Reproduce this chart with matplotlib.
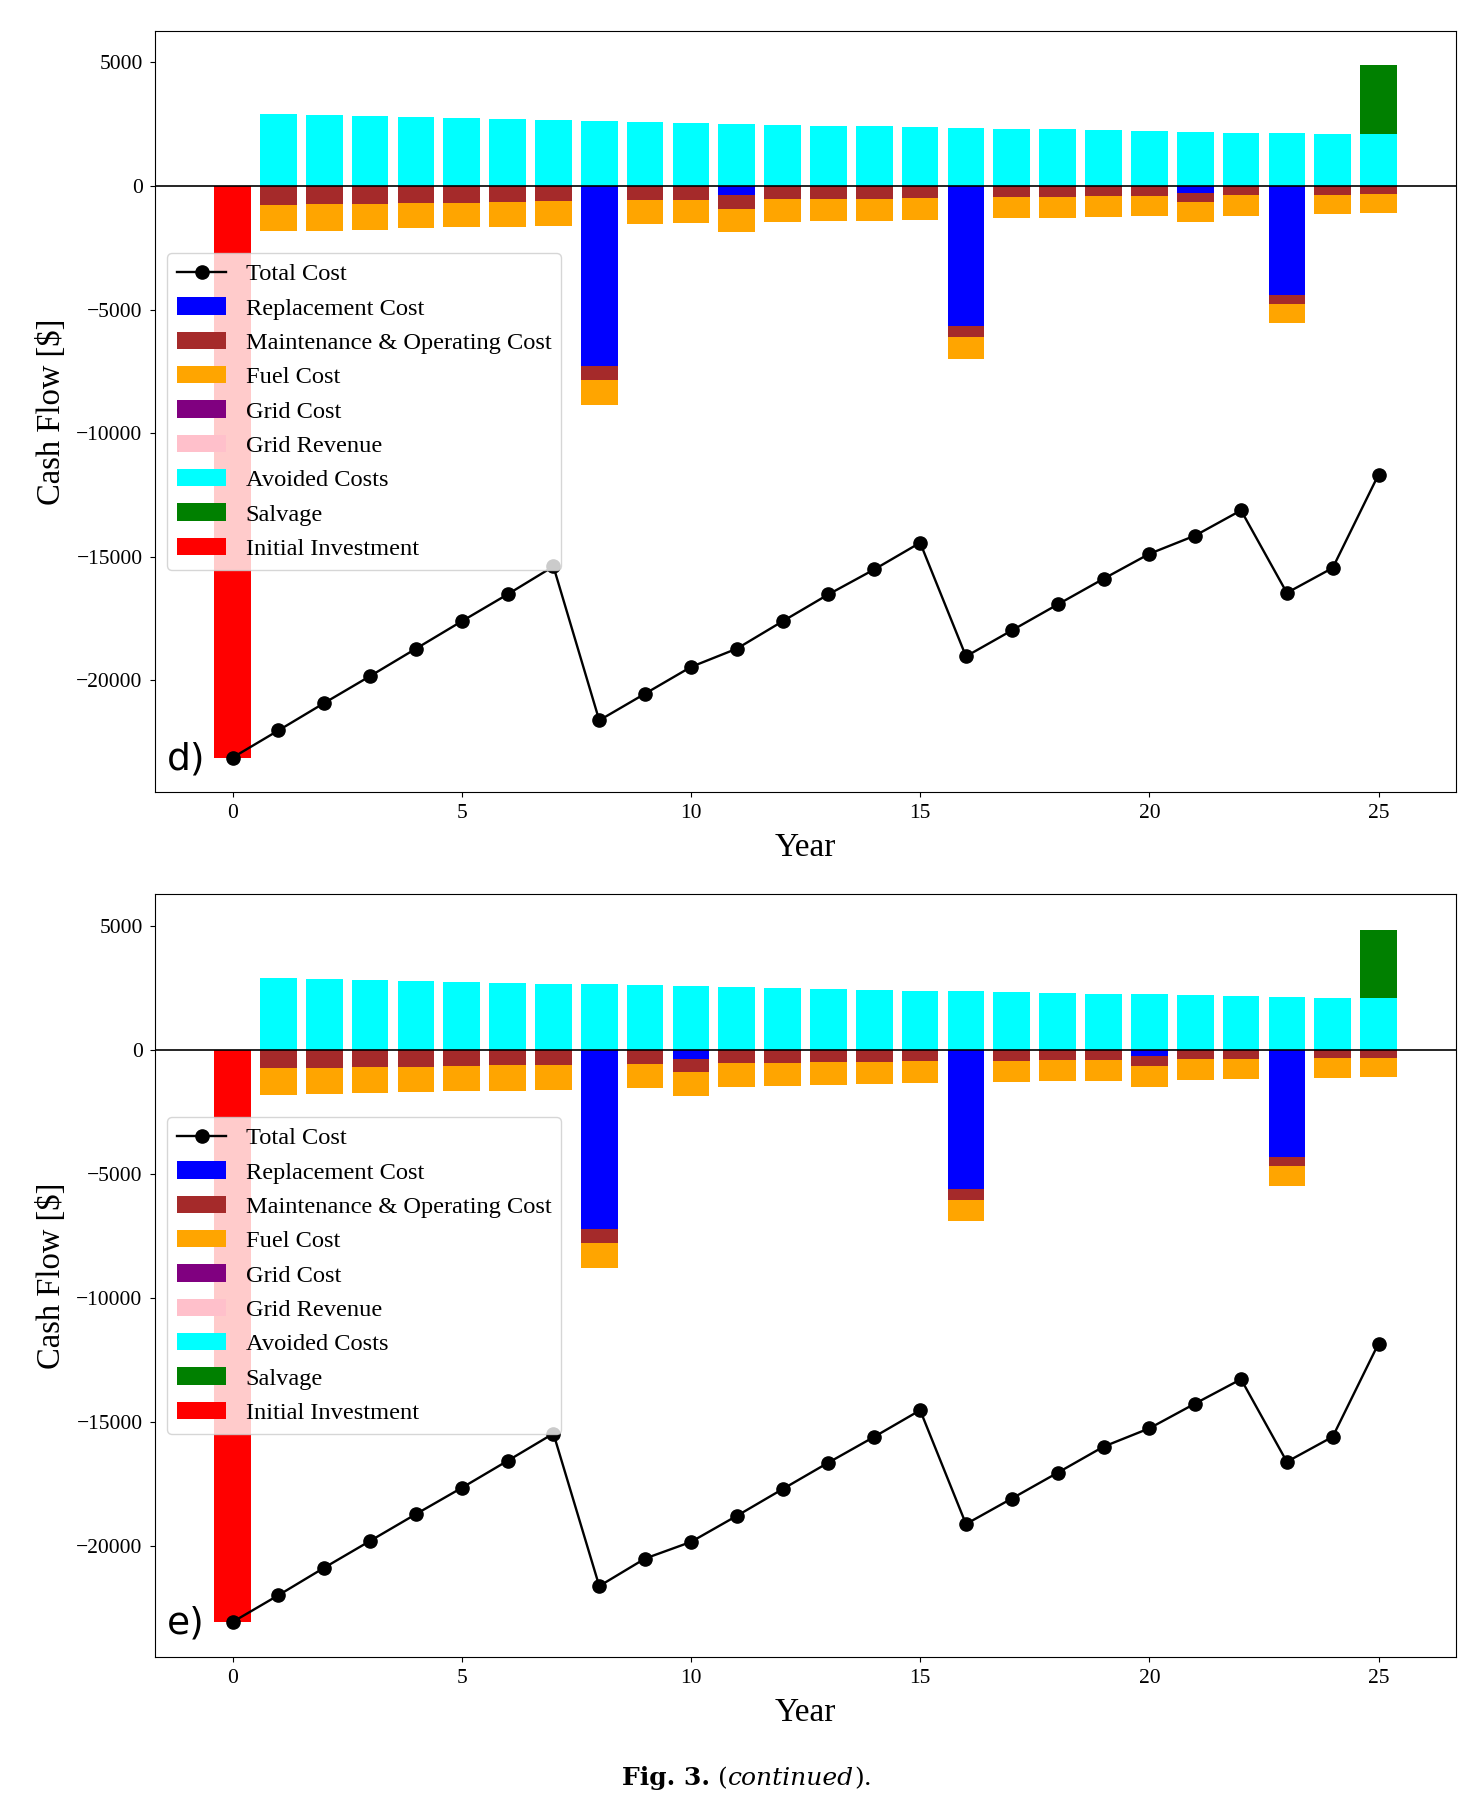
import numpy as np
import matplotlib.pyplot as plt

years = list(range(26))

# panel d)
initial_d = -23140
avoided_d = [2900, 2860, 2820, 2790, 2750, 2710, 2670, 2630, 2590, 2550, 2520, 2480, 2440,
             2420, 2390, 2360, 2320, 2310, 2270, 2230, 2200, 2160, 2130, 2090, 2090]
salvage_d = 2795
replace_d = {8: 7290, 11: 350, 16: 5670, 21: 280, 23: 4430}
maint_d = [756, 729, 715, 702, 675, 648, 621, 580, 580, 553, 567, 526, 525,
           513, 486, 445, 445, 432, 418, 391, 364, 378, 337, 364, 337]
fuel_d = [1080, 1080, 1053, 1012, 999, 1012, 999, 985, 958, 958, 931, 931, 898,
          891, 891, 877, 864, 850, 850, 837, 823, 823, 783, 783, 769]
total_d = [-23140, -22040, -20930, -19840, -18730, -17620, -16530, -15400, -21630, -20550,
           -19470, -18730, -17620, -16530, -15520, -14440, -19040, -17990, -16940, -15900,
           -14890, -14150, -13130, -16470, -15460, -11680]

# panel e)
initial_e = -23060
avoided_e = [2920, 2880, 2830, 2790, 2750, 2720, 2680, 2650, 2610, 2570, 2530, 2490, 2470,
             2440, 2400, 2370, 2360, 2310, 2270, 2250, 2210, 2170, 2160, 2100, 2100]
salvage_e = 2750
replace_e = {8: 7200, 10: 360, 16: 5600, 20: 240, 23: 4330}
maint_e = [737, 710, 684, 670, 643, 617, 603, 576, 563, 536, 523, 509, 496,
           483, 442, 429, 429, 402, 389, 402, 375, 362, 335, 335, 322]
fuel_e = [1072, 1072, 1059, 1032, 1019, 1019, 1005, 1005, 965, 965, 952, 925, 925,
          885, 898, 871, 858, 858, 845, 831, 831, 818, 804, 777, 777]
total_e = [-23060, -21980, -20870, -19790, -18710, -17650, -16560, -15460, -21610, -20500,
           -19830, -18780, -17700, -16630, -15590, -14520, -19110, -18080, -17040, -15990,
           -15250, -14250, -13270, -16600, -15590, -11830]

SERIF = 'Liberation Serif'
plt.rcParams['font.family'] = SERIF


def draw_panel(ax, initial, avoided, salvage, replace, maint, fuel, total, tag, ylim):
    yrs = np.array(years)
    n = len(years)
    rep = np.zeros(n)
    for y, v in replace.items():
        rep[y] = -v
    mnt = np.concatenate([[0], -np.array(maint)])
    fue = np.concatenate([[0], -np.array(fuel)])
    avd = np.concatenate([[0], np.array(avoided)])
    sal = np.zeros(n)
    sal[-1] = salvage
    ini = np.zeros(n)
    ini[0] = initial
    zero = np.zeros(n)
    w = 0.8

    ax.plot(yrs, total, color='black', marker='o', markersize=9.5, lw=1.7,
            zorder=4, label='Total Cost')
    ax.bar(yrs, rep, w, color='blue', label='Replacement Cost')
    ax.bar(yrs, mnt, w, bottom=rep, color='brown', label='Maintenance & Operating Cost')
    ax.bar(yrs, fue, w, bottom=rep + mnt, color='orange', label='Fuel Cost')
    ax.bar(yrs, zero, w, color='purple', label='Grid Cost')
    ax.bar(yrs, zero, w, color='pink', label='Grid Revenue')
    ax.bar(yrs, avd, w, color='cyan', label='Avoided Costs')
    ax.bar(yrs, sal, w, bottom=avd, color='green', label='Salvage')
    ax.bar(yrs, ini, w, color='red', label='Initial Investment')
    ax.axhline(0, color='black', lw=1.2, zorder=3)

    ax.set_ylim(*ylim)
    ax.set_xlim(-1.69, 26.69)
    ax.set_xticks([0, 5, 10, 15, 20, 25])
    ax.set_yticks([5000, 0, -5000, -10000, -15000, -20000])
    ax.tick_params(labelsize=15.5, pad=5.5)
    ax.set_xlabel('Year', fontsize=24, labelpad=6.5)
    ax.set_ylabel('Cash Flow [$]', fontsize=23.5)
    ax.yaxis.set_label_coords(-0.068, 0.5)
    leg = ax.legend(loc='center left', fontsize=17.6)
    leg.set_zorder(5)
    ax.text(0.009, 0.03, tag, transform=ax.transAxes, fontsize=27,
            family='DejaVu Sans', va='baseline', ha='left', zorder=6)


fig = plt.figure(figsize=(14.74, 18.02), dpi=100)
ax1 = fig.add_axes([0.1052, 0.5605, 0.8826, 0.4223])
ax2 = fig.add_axes([0.1052, 0.0806, 0.8826, 0.4231])

draw_panel(ax1, initial_d, avoided_d, salvage_d, replace_d, maint_d, fuel_d, total_d,
           'd)', (-24530, 6275))
draw_panel(ax2, initial_e, avoided_e, salvage_e, replace_e, maint_e, fuel_e, total_e,
           'e)', (-24460, 6280))

# caption, pieces laid out one after another and centred
cap_font = 'DejaVu Serif'
cap_y = 0.0095
parts = [('Fig. 3.', dict(weight='bold')), (' (', {}),
         ('continued', dict(style='italic')), (').', {})]
texts = [fig.text(0, cap_y, s, fontsize=18, family=cap_font, va='baseline', **kw)
         for s, kw in parts]
fig.canvas.draw()
r = fig.canvas.get_renderer()
widths = [t.get_window_extent(r).width for t in texts]
x = 747 - sum(widths) / 2
for t, wd in zip(texts, widths):
    t.set_position((x / fig.bbox.width, cap_y))
    x += wd

fig.savefig('out.png', dpi=100)
